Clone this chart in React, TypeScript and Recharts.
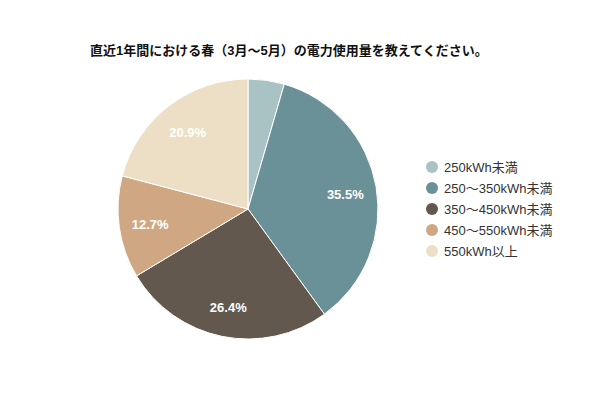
import { PieChart, Pie, Cell, Legend } from 'recharts';

const categories = ['250kWh未満', '250～350kWh未満', '350～450kWh未満', '450～550kWh未満', '550kWh以上'];
const shares = [4.5, 35.5, 26.4, 12.7, 20.9];
const colors = ['#a9c2c3', '#6b9198', '#63584e', '#cfa883', '#ecdfc5'];

const data = categories.map((name, i) => ({ name, value: shares[i] }));

const RADIAN = Math.PI / 180;
const FONT = '"Liberation Sans", Arial, "Noto Sans CJK JP", sans-serif';

// ラベル（小さい扇形は省略）
const renderLabel = (props: any) => {
  const { cx, cy, midAngle, outerRadius, value } = props;
  if (value < 5) return null;
  const r = outerRadius * 0.76;
  const x = cx + r * Math.cos(-midAngle * RADIAN);
  const y = cy + r * Math.sin(-midAngle * RADIAN) + 2;
  return (
    <text x={x} y={y} fill="#ffffff" textAnchor="middle" dominantBaseline="central" fontSize={13} fontWeight="bold" fontFamily={FONT}>
      {value.toFixed(1)}%
    </text>
  );
};

const renderLegend = () => (
  <div style={{ fontFamily: FONT, fontSize: 13, color: '#333' }}>
    {categories.map((c, i) => (
      <div key={c} style={{ display: 'flex', alignItems: 'center', height: 21 }}>
        <span style={{ width: 12, height: 12, borderRadius: '50%', background: colors[i], display: 'inline-block', marginRight: 6 }} />
        <span>{c}</span>
      </div>
    ))}
  </div>
);

export default function App() {
  return (
    <div style={{ position: 'relative', width: 600, height: 400, margin: -8, background: '#fff' }}>
      <div
        style={{
          position: 'absolute',
          left: 90,
          top: 40,
          fontFamily: FONT,
          fontSize: 13,
          fontWeight: 'bold',
          color: '#111',
          whiteSpace: 'nowrap',
        }}
      >
        直近1年間における春（3月～5月）の電力使用量を教えてください。
      </div>
      <PieChart width={600} height={400}>
        <Pie
          data={data}
          dataKey="value"
          nameKey="name"
          cx={243}
          cy={204}
          outerRadius={130}
          startAngle={90}
          endAngle={-270}
          stroke="#ffffff"
          strokeWidth={1}
          label={renderLabel}
          labelLine={false}
          isAnimationActive={false}
        >
          {data.map((d, i) => (
            <Cell key={d.name} fill={colors[i]} />
          ))}
        </Pie>
        <Legend content={renderLegend} wrapperStyle={{ left: 426, top: 156, width: 160 }} />
      </PieChart>
    </div>
  );
}
